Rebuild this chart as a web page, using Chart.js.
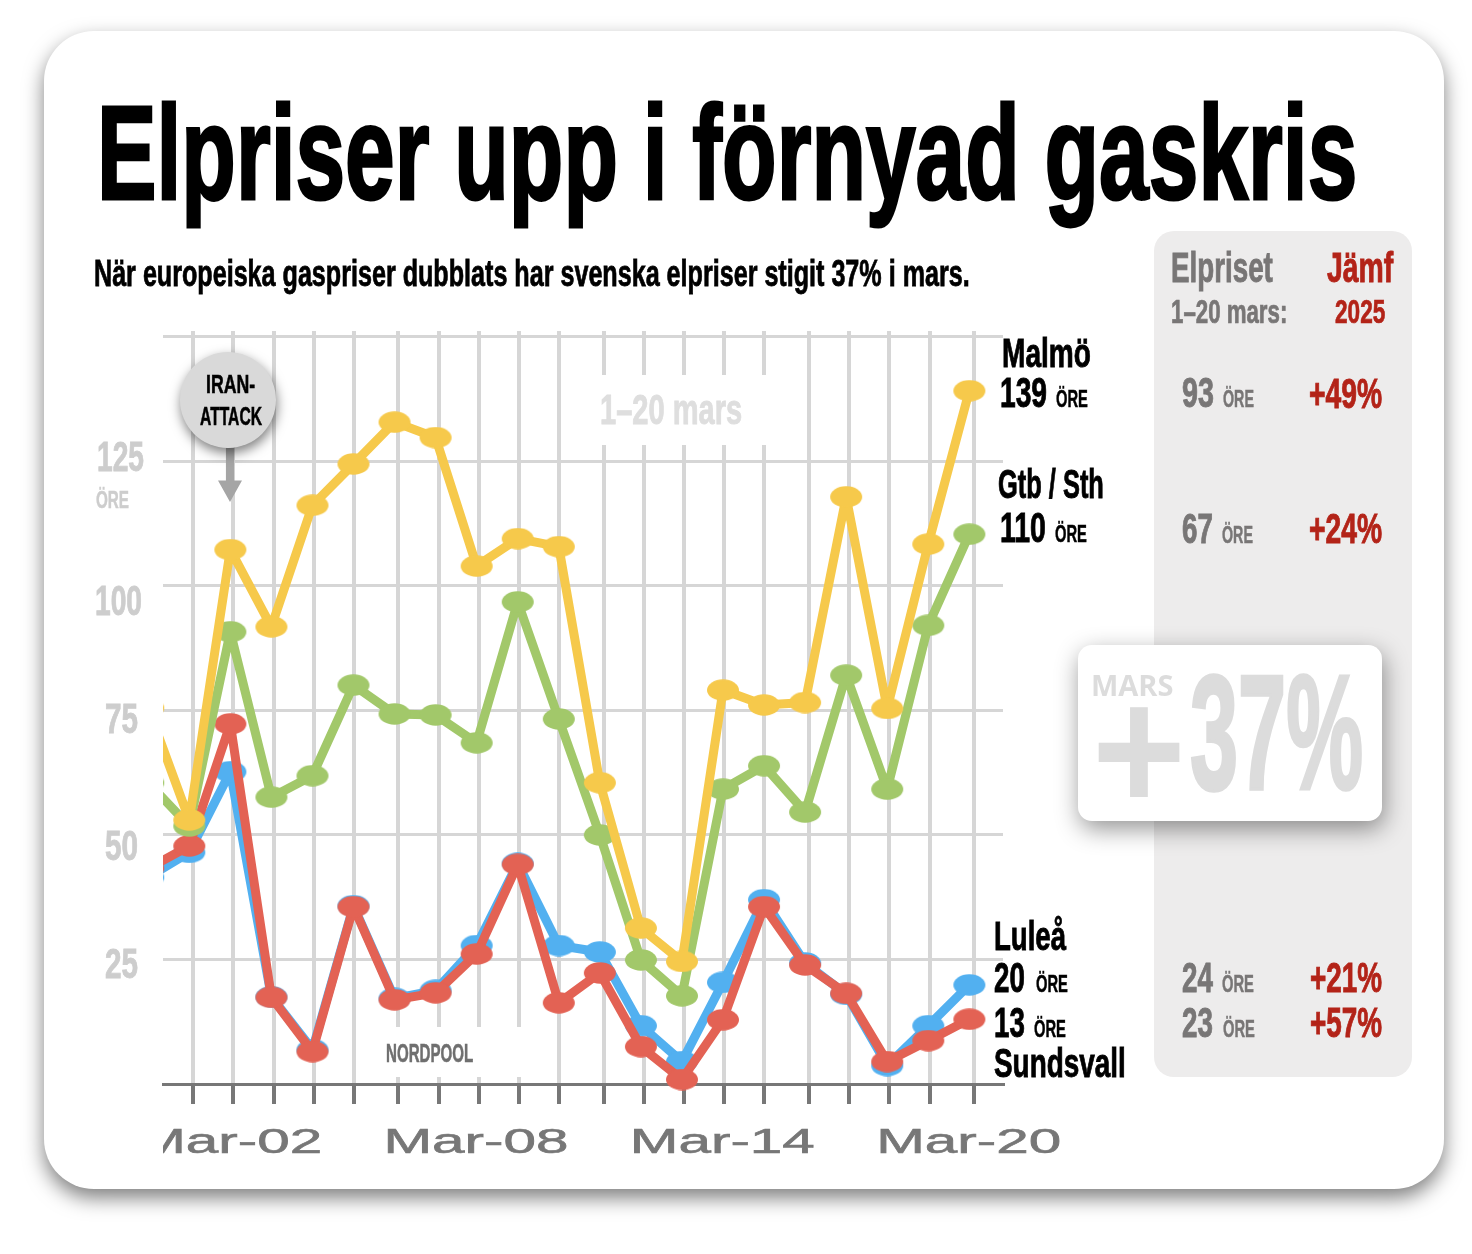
<!DOCTYPE html>
<html lang="sv">
<head>
<meta charset="utf-8">
<title>Elpriser upp i förnyad gaskris</title>
<script src="https://cdn.jsdelivr.net/npm/chart.js@4"></script>
<style>
  html, body { margin: 0; padding: 0; background: #fff; }
  #page { position: relative; width: 1472px; height: 1254px; overflow: hidden; }
  #card { position: absolute; left: 44px; top: 31px; width: 1400px; height: 1158px; background: #fff;
          border-radius: 50px; box-shadow: 0 9px 20px rgba(0,0,0,.5); }
  #panel { position: absolute; left: 1154px; top: 231px; width: 258px; height: 846px; background: #edecec; border-radius: 20px; }
  #chart1 { position: absolute; left: 0; top: 0; }
  #marsBox { position: absolute; left: 1078px; top: 645px; width: 304px; height: 176px; background: #fff;
             border-radius: 14px; box-shadow: 2px 8px 24px rgba(0,0,0,.42); }
  #iranDot { position: absolute; left: 180px; top: 352px; width: 96px; height: 96px; background: #d9d9d9;
             border-radius: 50%; box-shadow: 1px 5px 12px rgba(0,0,0,.5); }
  #arrow { position: absolute; left: 218px; top: 448px; width: 24px; height: 54px; background: #a5a5a5;
           clip-path: polygon(33% 0, 67% 0, 67% 60%, 100% 60%, 50% 100%, 0 60%, 33% 60%); }
  .t { position: absolute; line-height: 0; white-space: pre; transform-origin: 0 0; font-family: "Liberation Sans Narrow", "Liberation Sans", sans-serif; font-weight: 700; }
</style>
</head>
<body>
<div id="page">
  <div id="card"></div>
  <div id="panel"></div>
  <canvas id="chart1" width="1472" height="1254"></canvas>
  <div id="arrow"></div>
  <div id="iranDot"></div>
  <div id="marsBox"></div>
</div>
<script>
// Day of March, 0 is the day before the window starts (clipped by the plot edge)
var days = [0, 1, 2, 3, 4, 5, 6, 7, 8, 9, 10, 11, 12, 13, 14, 15, 16, 17, 18, 19, 20];

// Prices in ore
var malmo = [75.5, 53.0, 107.3, 91.8, 116.2, 124.5, 132.9, 129.8, 104.0, 109.5, 107.9, 60.5, 31.3, 24.6, 79.1, 76.1, 76.6, 117.9, 75.4, 108.4, 139.2];
var gtbSth = [60.5, 51.8, 90.8, 57.6, 61.9, 80.1, 74.3, 74.1, 68.5, 96.8, 73.3, 50.0, 24.9, 17.7, 59.2, 63.9, 54.6, 82.1, 59.2, 92.1, 110.4];
var sundsvall = [43.3, 47.8, 72.3, 17.4, 6.5, 35.6, 16.9, 18.3, 26.1, 44.1, 16.3, 22.3, 7.5, 0.9, 12.9, 35.6, 23.9, 18.2, 4.5, 8.7, 13.0];
var lulea = [41.5, 46.5, 62.7, 17.5, 6.9, 35.8, 17.2, 18.8, 27.8, 44.3, 27.8, 26.5, 11.7, 4.5, 20.4, 37.0, 24.3, 18.0, 3.7, 11.7, 19.9];

// Tick labels
var yTicks = [25, 50, 75, 100, 125];
var xTickDays = [2, 8, 14, 20];
var xTickLabels = ['Mar-02', 'Mar-08', 'Mar-14', 'Mar-20'];

// The vertical rules in the original are not quite on the data days
var gridDays = [1.10, 2.07, 3.06, 4.03, 5.01, 6.09, 7.08, 8.06, 9.03, 10.01, 11.09, 12.08, 13.05, 14.03, 15.0, 16.09, 17.06, 18.05, 19.03, 20.11];

var NARROW = '"Liberation Sans Narrow", "Liberation Sans", sans-serif';

// Oval marker as a small canvas, the circles in the original are stretched
function makeDot(color) {
    var c = document.createElement('canvas');
    c.width = 34;
    c.height = 22;
    var g = c.getContext('2d');
    g.fillStyle = color;
    g.beginPath();
    g.ellipse(17, 11, 16, 10.7, 0, 0, Math.PI * 2);
    g.fill();
    return c;
}

function lineSet(label, values, color) {
    return {
        label: label,
        data: values.map(function (v, i) { return { x: days[i], y: v }; }),
        borderColor: color,
        backgroundColor: color,
        borderWidth: 9,
        borderJoinStyle: 'round',
        tension: 0,
        pointStyle: makeDot(color),
        pointRadius: 16,
        clip: { left: 0, top: false, right: false, bottom: false }
    };
}

// Draw canvas text squeezed or stretched to an exact width, with a thin
// outline to get closer to the heavier weight of the original
function fitText(ctx, text, x, baseline, width, font, color, stroke) {
    ctx.save();
    ctx.font = font;
    ctx.fillStyle = color;
    ctx.strokeStyle = color;
    ctx.lineWidth = stroke;
    ctx.textAlign = 'left';
    ctx.textBaseline = 'alphabetic';
    var w = ctx.measureText(text).width;
    ctx.translate(x, baseline);
    ctx.scale(width / w, 1);
    ctx.fillText(text, 0, 0);
    ctx.strokeText(text, 0, 0);
    ctx.restore();
}

// White patches that break the vertical rules behind the two notes
var patchPlugin = {
    id: 'patches',
    beforeDatasetsDraw: function (chart) {
        var ctx = chart.ctx;
        ctx.save();
        ctx.fillStyle = '#fff';
        ctx.fillRect(590, 375, 185, 70);
        ctx.fillRect(375, 1027, 165, 50);
        ctx.restore();
    }
};

// The axis labels have their own placement in the original
var axisTextPlugin = {
    id: 'axisText',
    afterDraw: function (chart) {
        var ctx = chart.ctx;
        var x = chart.scales.x;
        var y = chart.scales.y;
        var font = '35px "Liberation Sans", sans-serif';
        ctx.save();
        ctx.beginPath();
        ctx.rect(chart.chartArea.left, 1100, 1000, 100);
        ctx.clip();
        xTickLabels.forEach(function (label, i) {
            var mid = x.getPixelForValue(xTickDays[i]) + 1.5;
            fitText(ctx, label, mid - 94.7, 1153, 185, font, '#777', 0.6);
        });
        ctx.restore();

        var yFont = '700 43px ' + NARROW;
        var yShift = [19, 25, 23, 29, 10];
        var yLeft = [105, 105, 105, 95, 97];
        var yWidth = [33, 33, 33, 47, 47];
        yTicks.forEach(function (v, i) {
            fitText(ctx, String(v), yLeft[i], y.getPixelForValue(v) + yShift[i], yWidth[i], yFont, '#cdcdcd', 0.9);
        });
        fitText(ctx, 'ÖRE', 96, 508, 33, '700 24px ' + NARROW, '#cdcdcd', 0.5);
    }
};

document.addEventListener('DOMContentLoaded', function () {
    var ctx1 = document.getElementById('chart1').getContext('2d');
    new Chart(ctx1, {
        type: 'line',
        data: {
            datasets: [
                lineSet('Malmö', malmo, '#f6c94b'),
                lineSet('Gtb / Sth', gtbSth, '#a2c86a'),
                lineSet('Sundsvall', sundsvall, '#e36254'),
                lineSet('Luleå', lulea, '#52b0f0')
            ]
        },
        options: {
            responsive: false,
            animation: false,
            layout: { padding: { left: 163, right: 469, top: 331, bottom: 150 } },
            plugins: { legend: { display: false }, tooltip: { enabled: false } },
            scales: {
                x: {
                    type: 'linear',
                    min: 0.36,
                    max: 20.82,
                    afterBuildTicks: function (scale) {
                        scale.ticks = gridDays.map(function (d) { return { value: d }; });
                    },
                    afterFit: function (scale) { scale.height = 20; },
                    ticks: { display: false },
                    border: { color: '#777', width: 3 },
                    grid: { color: '#d6d6d6', lineWidth: 4, tickColor: '#777', tickWidth: 4, tickLength: 20 }
                },
                y: {
                    min: 0,
                    max: 151.2,
                    afterBuildTicks: function (scale) {
                        scale.ticks = yTicks.concat([150]).map(function (v) { return { value: v }; });
                    },
                    afterFit: function (scale) { scale.width = 0; },
                    ticks: { display: false },
                    border: { display: false },
                    grid: { color: '#d6d6d6', lineWidth: 3, drawTicks: false }
                }
            }
        },
        plugins: [patchPlugin, axisTextPlugin]
    });

    // Everything around the plot: headline, city labels, side table
    var page = document.getElementById('page');
    function put(text, x, baseline, width, size, color, family, thin) {
        var s = document.createElement('span');
        s.className = 't';
        s.textContent = text;
        s.style.fontSize = size + 'px';
        s.style.color = color;
        if (family) s.style.fontFamily = family;
        if (!thin) s.style.webkitTextStroke = (size * 0.022) + 'px ' + color;
        page.appendChild(s);
        // line-height 0 puts the baseline a fixed share of the font size below top
        var probe = document.createElement('i');
        probe.style.cssText = 'display:inline-block;width:0;height:0';
        s.appendChild(probe);
        var drop = probe.getBoundingClientRect().bottom - s.getBoundingClientRect().top;
        s.removeChild(probe);
        s.style.left = x + 'px';
        s.style.top = (baseline - drop) + 'px';
        s.style.transform = 'scaleX(' + (width / s.offsetWidth) + ')';
    }

    var BLACK = '#000', GREY = '#787676', RED = '#b32318', PALE = '#dcdcdc';

    put('Elpriser upp i förnyad gaskris', 97, 199, 1260, 134, BLACK);
    put('När europeiska gaspriser dubblats har svenska elpriser stigit 37% i mars.', 94, 286, 876, 36, BLACK);

    put('IRAN-', 206, 393, 49, 26, BLACK);
    put('ATTACK', 200, 425, 62, 26, BLACK);
    put('1–20 mars', 600, 424, 142, 43, '#dedede');
    put('NORDPOOL', 386, 1062, 87, 25, '#6f6f6f');

    put('Malmö', 1002, 367, 89, 41, BLACK);
    put('139', 1000, 407, 47, 42, BLACK);
    put('ÖRE', 1056, 407, 32, 23, BLACK);
    put('Gtb / Sth', 998, 498, 106, 41, BLACK);
    put('110', 1000, 542, 46, 42, BLACK);
    put('ÖRE', 1055, 542, 32, 23, BLACK);
    put('Luleå', 994, 950, 72, 41, BLACK);
    put('20', 994, 992, 31, 42, BLACK);
    put('ÖRE', 1036, 992, 32, 23, BLACK);
    put('13', 994, 1037, 31, 42, BLACK);
    put('ÖRE', 1034, 1037, 32, 23, BLACK);
    put('Sundsvall', 994, 1077, 132, 41, BLACK);

    put('Elpriset', 1171, 282, 102, 43, GREY);
    put('Jämf', 1327, 282, 66, 43, RED);
    put('1–20 mars:', 1171, 323, 116, 33, GREY);
    put('2025', 1335, 323, 50, 33, RED);

    put('93', 1182, 407, 32, 43, GREY);
    put('ÖRE', 1223, 407, 31, 23, GREY);
    put('+49%', 1309, 408, 73, 43, RED);
    put('67', 1182, 543, 31, 43, GREY);
    put('ÖRE', 1222, 543, 31, 23, GREY);
    put('+24%', 1309, 543, 73, 43, RED);
    put('24', 1182, 992, 31, 43, GREY);
    put('ÖRE', 1222, 992, 32, 23, GREY);
    put('+21%', 1310, 992, 72, 43, RED);
    put('23', 1182, 1037, 31, 43, GREY);
    put('ÖRE', 1223, 1037, 32, 23, GREY);
    put('+57%', 1310, 1037, 72, 43, RED);

    put('MARS', 1091, 696, 82, 29, PALE, '"Open Sans", sans-serif', true);
    put('+', 1092, 811, 94, 176, PALE, null, true);
    put('37%', 1190, 789, 173, 164, PALE);
});
</script>
</body>
</html>
